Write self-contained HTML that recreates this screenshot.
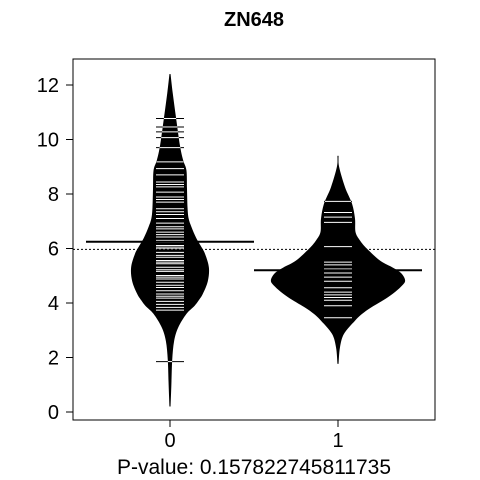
<!DOCTYPE html>
<html><head><meta charset="utf-8"><style>
html,body{margin:0;padding:0;background:#fff;width:480px;height:480px;overflow:hidden}
svg{display:block;font-family:"Liberation Sans",Arial,sans-serif}
</style></head><body>
<svg id="c" width="480" height="480" viewBox="0 0 480 480">
<text x="254" y="26" text-anchor="middle" font-weight="bold" font-size="20">ZN648</text>
<rect x="73" y="59" width="362" height="361" fill="none" stroke="#000" stroke-width="1"/>
<g id="beans"></g>
<g id="axes"></g>
<text x="254" y="474" text-anchor="middle" font-size="21">P-value: 0.157822745811735</text>
</svg>
<script>
const categories = ["0", "1"];
const yTicks = [0, 2, 4, 6, 8, 10, 12];
const groupMeans = [6.25, 5.2];
const overallMean = 5.97;
// density profiles: value -> relative density
const densVals0 = [0.2, 1.0, 1.9, 2.6, 3.1, 3.6, 3.9, 4.1, 4.34, 4.8, 5.3, 5.8, 6.1, 6.4, 6.8, 7.1, 7.5, 8.2, 8.87, 9.24, 9.8, 10.8, 11.7, 12.4];
const densY0   = [0.02, 0.05, 0.08, 0.15, 0.3, 0.6, 0.9, 1.05, 1.2, 1.38, 1.42, 1.28, 1.12, 0.95, 0.78, 0.68, 0.64, 0.62, 0.6, 0.48, 0.36, 0.22, 0.1, 0.02];
const densVals1 = [1.77, 2.36, 2.87, 3.35, 3.6, 3.83, 4.1, 4.34, 4.6, 4.82, 5.1, 5.3, 5.56, 6.0, 6.3, 6.6, 7.1, 7.65, 8.24, 9.0, 9.4];
const densY1   = [0.02, 0.07, 0.22, 0.62, 0.88, 1.2, 1.65, 2.0, 2.3, 2.45, 2.3, 2.0, 1.53, 1.05, 0.8, 0.64, 0.62, 0.51, 0.26, 0.04, 0.02];
const data0 = [10.77,10.46,10.28,10.07,9.7,9.18,8.93,8.7,8.44,8.35,8.26,8.07,7.89,7.8,7.7,7.46,7.35,7.25,7.1,6.93,6.8,6.72,6.6,6.51,6.42,6.3,6.23,6.11,6.05,5.99,5.86,5.75,5.68,5.56,5.5,5.44,5.31,5.22,5.16,5.01,4.95,4.88,4.76,4.65,4.57,4.45,4.33,4.25,4.18,4.06,3.95,3.84,3.74,1.85];
const data1 = [7.73,7.32,7.15,6.96,6.07,5.5,5.4,5.25,5.1,4.95,4.8,4.56,4.4,4.3,4.2,4.1,3.9,3.46];
const SCALE = 27.4;
const ns = "http://www.w3.org/2000/svg";
const yS = v => 412 - (412 - 85) / 12 * v;
const xS = i => 170 + 168 * i;
const beans = document.getElementById('beans');
const axes = document.getElementById('axes');
function mk(tag, attrs, parent){const e=document.createElementNS(ns,tag);for(const k in attrs)e.setAttribute(k,attrs[k]);parent.appendChild(e);return e;}
function smooth(pts){ // catmull-rom to bezier
  let d='M'+pts[0][0]+','+pts[0][1];
  for(let i=0;i<pts.length-1;i++){
    const p0=pts[Math.max(0,i-1)],p1=pts[i],p2=pts[i+1],p3=pts[Math.min(pts.length-1,i+2)];
    const c1=[p1[0]+(p2[0]-p0[0])/6,p1[1]+(p2[1]-p0[1])/6];
    const c2=[p2[0]-(p3[0]-p1[0])/6,p2[1]-(p3[1]-p1[1])/6];
    d+=' C'+c1.join(',')+' '+c2.join(',')+' '+p2.join(',');
  }
  return d;
}
const profiles=[[densVals0,densY0],[densVals1,densY1]];
const datas=[data0,data1];
profiles.forEach((p,i)=>{
  const cx=xS(i);const [vs,ds]=p;
  const right=vs.map((v,k)=>[cx+ds[k]*SCALE,yS(v)]);
  const left=vs.map((v,k)=>[cx-ds[k]*SCALE,yS(v)]).reverse();
  const poly=mk('path',{d:smooth(right)+' L'+left[0].join(',')+' '+smooth(left).slice(1).replace(/^[^C]*/,'')+' Z',fill:'#000'},beans);
  
  
  const tail=mk('line',{x1:cx,x2:cx,y1:yS(vs[0]),y2:yS(vs[vs.length-1]),stroke:'#000','stroke-width':1},beans);
  
  
  datas[i].forEach(v=>{
    const y=yS(v);
    let d=0;for(let k=0;k<vs.length-1;k++){if(v>=vs[k]&&v<=vs[k+1]){d=ds[k]+(ds[k+1]-ds[k])*(v-vs[k])/(vs[k+1]-vs[k]);}}
    const hw=d*SCALE;
    const x1=cx-14,x2=cx+14;
    const ln=mk('line',{x1:x1,x2:x2,y1:y,y2:y,stroke:'#000','stroke-width':1},beans);
    
    
    const a=Math.max(x1,cx-hw),b=Math.min(x2,cx+hw);
    if(b>a){
      const w=mk('line',{x1:a,x2:b,y1:y,y2:y,stroke:'#fff','stroke-width':1},beans);
      
      
    }
  });
  const m=mk('line',{x1:cx-84,x2:cx+84,y1:yS(groupMeans[i]),y2:yS(groupMeans[i]),stroke:'#000','stroke-width':2},beans);
  
  
});
const ov=mk('line',{x1:73,x2:435,y1:yS(overallMean),y2:yS(overallMean),stroke:'#000','stroke-width':1,'stroke-dasharray':'2,2'},beans);


yTicks.forEach(t=>{
  const y=yS(t);
  const tk=mk('line',{x1:66,x2:73,y1:y,y2:y,stroke:'#000'},axes);
  
  
  const tx=mk('text',{x:59,y:y+7,'text-anchor':'end','font-size':20},axes);
  tx.textContent=t;
  
  
});
categories.forEach((c,i)=>{
  const x=xS(i);
  const tk=mk('line',{x1:x,x2:x,y1:420,y2:427,stroke:'#000'},axes);
  
  
  const tx=mk('text',{x:x,y:447,'text-anchor':'middle','font-size':20},axes);
  tx.textContent=c;
  
  
});
</script>
</body></html>
